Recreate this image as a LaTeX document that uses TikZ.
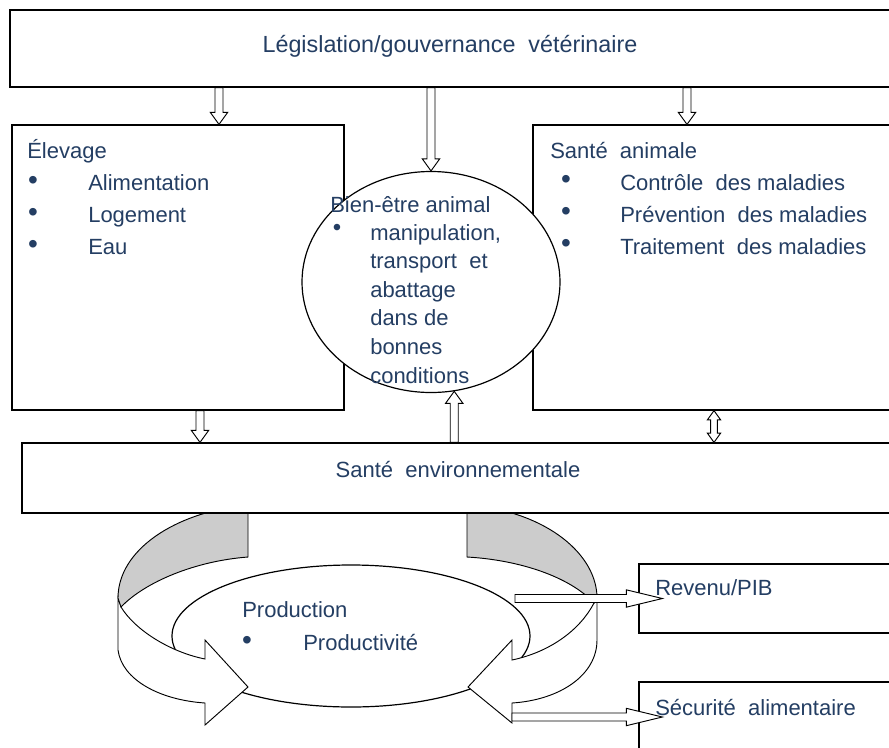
\documentclass[tikz,border=0pt]{standalone}
\usepackage{fontspec}
\setmainfont{Liberation Sans}
\usetikzlibrary{calc,fit,shapes.geometric}
\definecolor{textblue}{RGB}{36,62,99}
\definecolor{facegray}{RGB}{204,204,204}
\tikzset{
  box/.style={draw, fill=white, line width=0.9pt, inner sep=0pt},
  txt/.style={text=textblue, font=\fontsize{16.5}{20}\selectfont, inner sep=0pt, anchor=base west},
  dot/.style={text=textblue, font=\fontsize{21}{20}\selectfont, inner sep=0pt, anchor=center},
  arrowline/.style={draw, fill=white, line width=0.7pt},
  ribbon/.style={draw, line width=0.7pt},
}
% hollow block arrow from #2 to #3, #1 = head length
\newcommand\hollowarrow[3][9pt]{%
  \coordinate (ha-s) at #2;
  \coordinate (ha-e) at #3;
  \coordinate (ha-b) at ($(ha-e)!#1!(ha-s)$);
  \draw[arrowline] ($(ha-s)!3pt!90:(ha-e)$) -- ($(ha-b)!3pt!-90:(ha-s)$)
    -- ($(ha-b)!6.5pt!-90:(ha-s)$) -- (ha-e) -- ($(ha-b)!6.5pt!90:(ha-s)$)
    -- ($(ha-b)!3pt!90:(ha-s)$) -- ($(ha-s)!3pt!-90:(ha-e)$) -- cycle;
}
% hollow arrow with two heads
\newcommand\hollowboth[2]{%
  \coordinate (ha-s) at #1;
  \coordinate (ha-e) at #2;
  \coordinate (ha-a) at ($(ha-s)!7pt!(ha-e)$);
  \coordinate (ha-b) at ($(ha-e)!7pt!(ha-s)$);
  \draw[arrowline] (ha-s) -- ($(ha-a)!5pt!90:(ha-e)$) -- ($(ha-a)!2.5pt!90:(ha-e)$)
    -- ($(ha-b)!2.5pt!-90:(ha-s)$) -- ($(ha-b)!5pt!-90:(ha-s)$) -- (ha-e)
    -- ($(ha-b)!5pt!90:(ha-s)$) -- ($(ha-b)!2.5pt!90:(ha-s)$)
    -- ($(ha-a)!2.5pt!-90:(ha-e)$) -- ($(ha-a)!5pt!-90:(ha-e)$) -- cycle;
}

\begin{document}
\begin{tikzpicture}[x=0.75pt, y=-0.75pt]
  \path[use as bounding box, clip] (0,0) rectangle (889,747);

  % upper boxes
  \node[box, fit={(10,10) (895,87)}] (legis) {};
  \node[box, fit={(12,125) (344,410)}] (elev) {};
  \node[box, fit={(533,125) (895,410)}] (sante) {};
  \node[box, ellipse, minimum width=193.5pt, minimum height=165.75pt] (bienetre) at (431,282) {};

  % production cycle
  \node[box, ellipse, minimum width=268.5pt, minimum height=106.5pt] (prod) at (351,636) {};
  \filldraw[ribbon, fill=white] (121,607) .. controls (135,630) and (170,652) .. (205,659)
    -- (205,640) -- (248,687) -- (205,725) -- (205,703)
    .. controls (160,700) and (122,680) .. (118,650) -- (118,598) -- cycle;
  \filldraw[ribbon, fill=facegray] (248,505) -- (248,557) .. controls (195,561) and (145,582) .. (121,607)
    -- (118,598) .. controls (118,550) and (175,512) .. (248,505) -- cycle;
  \filldraw[ribbon, fill=white] (594,603) .. controls (580,630) and (550,652) .. (512,660)
    -- (512,640) -- (468,687) -- (512,723) -- (512,703)
    .. controls (560,700) and (597,675) .. (597,640) -- (597,596) -- cycle;
  \filldraw[ribbon, fill=facegray] (467,505) -- (467,557) .. controls (520,560) and (570,577) .. (594,603)
    -- (597,596) .. controls (595,550) and (540,510) .. (467,505) -- cycle;

  % lower boxes
  \node[box, fit={(22,443) (895,513)}] (env) {};
  \node[box, fit={(639,564) (895,633)}] (revenu) {};
  \node[box, fit={(639,682) (895,752)}] (secu) {};

  % block arrows
  \hollowarrow{(219,0 |- legis.south)}{(219,0 |- elev.north)}
  \hollowarrow{(bienetre.north |- legis.south)}{(bienetre.north)}
  \hollowarrow{(687,0 |- legis.south)}{(687,0 |- sante.north)}
  \hollowarrow{(200,0 |- elev.south)}{(200,0 |- env.north)}
  \hollowarrow{(bienetre.-78.5 |- env.north)}{(bienetre.-78.5)}
  \hollowboth{(714,0 |- sante.south)}{(714,0 |- env.north)}
  \coordinate (revfrom) at (515,0 |- revenu.west);
  \coordinate (secufrom) at (512,0 |- secu.west);
  \hollowarrow[27pt]{(revfrom)}{([xshift=18pt]revenu.west)}
  \hollowarrow[27pt]{(secufrom)}{([xshift=18pt]secu.west)}

  % texts
  \node[txt, anchor=base, font=\fontsize{17.5}{20}\selectfont] (legis-t) at (450,52) {Législation/gouvernance\ \ vétérinaire};
  \node[txt] (elev-t) at (27,158) {Élevage};
  \foreach \entry [count=\i] in {Alimentation, Logement, Eau} {
    \node[dot] (elev-d\i) at (33,151+32*\i) {•};
    \node[txt] (elev-\i) at (88,158+32*\i) {\entry};
  }
  \node[txt] (sante-t) at (550,158) {Santé\ \ animale};
  \foreach \entry [count=\i] in {Contrôle\ \ des maladies, Prévention\ \ des maladies, Traitement\ \ des maladies} {
    \node[dot] (sante-d\i) at (566,150+32*\i) {•};
    \node[txt] (sante-\i) at (620,158+32*\i) {\entry};
  }
  \node[txt] (bienetre-t) at (330,212) {Bien-être animal};
  \node[dot, font=\fontsize{18}{18}\selectfont] (bienetre-d) at (337,230) {•};
  \foreach \entry [count=\i from 0] in {{manipulation,}, transport\ \ et, abattage, dans de, bonnes, conditions} {
    \node[txt] (bienetre-\i) at (370,240+28.6*\i) {\entry};
  }
  \node[txt, anchor=base] (env-t) at (458,477) {Santé\ \ environnementale};
  \node[txt] (prod-t) at (242,617) {Production};
  \node[dot] (prod-d) at (247,643) {•};
  \node[txt] (prod-1) at (303,650) {Productivité};
  \node[txt] (revenu-t) at (655,595) {Revenu/PIB};
  \node[txt] (secu-t) at (655,715) {Sécurité\ \ alimentaire};
\end{tikzpicture}
\end{document}
